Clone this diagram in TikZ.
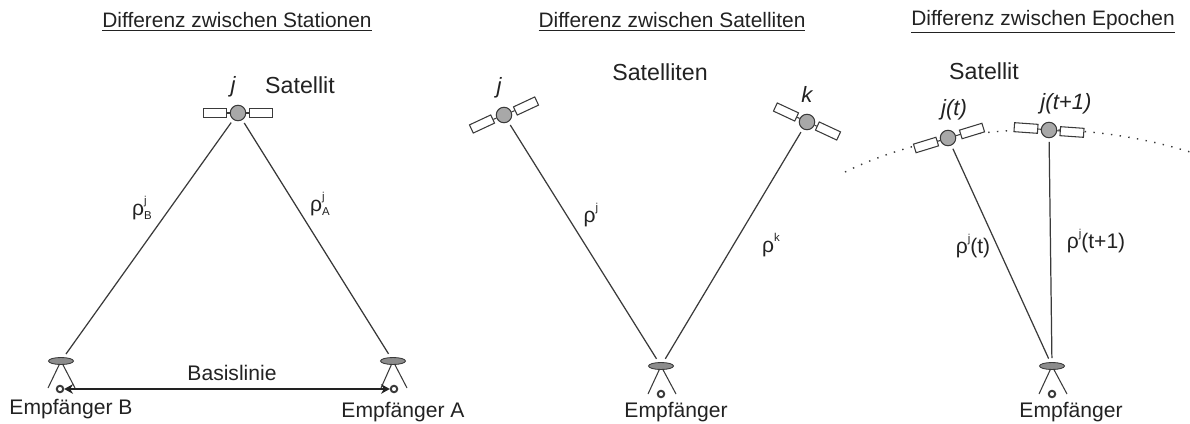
\documentclass[tikz,border=0pt]{standalone}
\usepackage{xcolor}
\usepackage{fontspec}
\setmainfont{Liberation Sans}
\usepackage{tikz}
\usetikzlibrary{shapes.geometric,arrows.meta}
\definecolor{InkGray}{HTML}{222222}
\definecolor{LineGray}{HTML}{3A3A3A}
\definecolor{BodyGray}{HTML}{A8A8A8}
\definecolor{DishGray}{HTML}{8C8C8C}
\newcommand{\rholabel}[2]{ρ\rlap{\raisebox{1.0ex}{\fontsize{6.5}{7}\selectfont #1}}\raisebox{-0.35ex}{\fontsize{6.5}{7}\selectfont #2}}
\newcommand{\rhosup}[1]{ρ\raisebox{1.0ex}{\fontsize{6.5}{7}\selectfont #1}}
\tikzset{
  titlelabel/.style={
    font=\fontsize{11.9}{13}\selectfont,text=InkGray,inner sep=0pt
  },
  textlabel/.style={
    font=\fontsize{12}{13}\selectfont,text=InkGray,inner sep=0pt
  },
  satlabel/.style={
    font=\fontsize{13.2}{15}\selectfont,text=InkGray,inner sep=0pt
  },
  idlabel/.style={
    font=\fontsize{12.6}{14}\selectfont\itshape,text=InkGray,inner sep=0pt
  },
  satbody/.style={
    circle,draw=LineGray,fill=BodyGray,line width=0.6pt,
    minimum size=0.31cm,inner sep=0pt
  },
  satpanel/.style={
    rectangle,draw=LineGray,fill=white,line width=0.6pt,
    minimum width=0.47cm,minimum height=0.18cm,inner sep=0pt
  },
  dish/.style={
    ellipse,draw=LineGray,fill=DishGray,line width=0.5pt,
    minimum width=0.5cm,minimum height=0.14cm,inner sep=0pt
  },
  phasepoint/.style={
    circle,draw=LineGray,fill=white,line width=1.1pt,
    minimum size=0.13cm,inner sep=0pt
  },
  strut/.style={line width=0.6pt,draw=LineGray},
  legline/.style={line width=0.6pt,draw=LineGray},
  rangeline/.style={line width=0.7pt,draw=LineGray,shorten <=2pt,shorten >=2.2pt},
}
\begin{document}
\begin{tikzpicture}[x=0.02cm,y=-0.02cm]
  \useasboundingbox (0,0) rectangle (1190,423);
  \node[titlelabel] (title1) at (237,22) {\underline{Differenz zwischen Stationen}};
  \node[titlelabel] (title2) at (672,22) {\underline{Differenz zwischen Satelliten}};
  \node[titlelabel] (title3) at (1043,22) {\underline{Differenz zwischen Epochen}};
  \coordinate (orbitL) at (845,172);
  \coordinate (orbitR) at (1190,152);
  \draw[line width=0.8pt,draw=LineGray,dash pattern=on 0.8pt off 4.2pt] (orbitL) .. controls (930,130) and (1060,112) .. (orbitR);
  \node[satpanel] (panA1) at (215,113) {};
  \node[satpanel] (panA2) at (261,113) {};
  \node[satbody] (satA) at (238,113) {};
  \node[satpanel,rotate=25] (panB1) at (482,124) {};
  \node[satpanel,rotate=25] (panB2) at (526,106) {};
  \node[satbody] (satB) at (504,115) {};
  \node[satpanel,rotate=-25] (panC1) at (786,112) {};
  \node[satpanel,rotate=-25] (panC2) at (828,131) {};
  \node[satbody] (satC) at (807,122) {};
  \node[satpanel,rotate=17] (panD1) at (926,145) {};
  \node[satpanel,rotate=17] (panD2) at (972,131) {};
  \node[satbody] (satD) at (948,138) {};
  \node[satpanel,rotate=-4] (panE1) at (1026,128) {};
  \node[satpanel,rotate=-4] (panE2) at (1072,132) {};
  \node[satbody] (satE) at (1049,130) {};
  \draw[strut] (satA) -- (panA1);
  \draw[strut] (satA) -- (panA2);
  \draw[strut] (satB) -- (panB1);
  \draw[strut] (satB) -- (panB2);
  \draw[strut] (satC) -- (panC1);
  \draw[strut] (satC) -- (panC2);
  \draw[strut] (satD) -- (panD1);
  \draw[strut] (satD) -- (panD2);
  \draw[strut] (satE) -- (panE1);
  \draw[strut] (satE) -- (panE2);
  \node[dish] (dishB) at (61,361) {};
  \node[dish] (dishA) at (393,361) {};
  \node[dish] (dishM) at (661,366) {};
  \node[dish] (dishE) at (1052,366) {};
  \node[phasepoint] (phB) at (60,389) {};
  \node[phasepoint] (phA) at (394,389) {};
  \node[phasepoint] (phM) at (661,394) {};
  \node[phasepoint] (phE) at (1052,394) {};
  \coordinate (footB1) at (48,388);
  \coordinate (footB2) at (75,388);
  \coordinate (footA1) at (381,388);
  \coordinate (footA2) at (407,388);
  \coordinate (footM1) at (648,394);
  \coordinate (footM2) at (676,394);
  \coordinate (footE1) at (1039,394);
  \coordinate (footE2) at (1067,394);
  \draw[legline] (dishB) -- (footB1);
  \draw[legline] (dishB) -- (footB2);
  \draw[legline] (dishA) -- (footA1);
  \draw[legline] (dishA) -- (footA2);
  \draw[legline] (dishM) -- (footM1);
  \draw[legline] (dishM) -- (footM2);
  \draw[legline] (dishE) -- (footE1);
  \draw[legline] (dishE) -- (footE2);
  \draw[rangeline] (satA) -- (dishB);
  \draw[rangeline] (satA) -- (dishA);
  \draw[rangeline] (satB) -- (dishM);
  \draw[rangeline] (satC) -- (dishM);
  \draw[rangeline] (satD) -- (dishE);
  \draw[rangeline] (satE) -- (dishE);
  \draw[line width=0.9pt,draw=InkGray,{Stealth[length=5pt,width=5.5pt]}-{Stealth[length=5pt,width=5.5pt]}] (phB) -- (phA);
  \node[satlabel] (satlabelA) at (300,85) {Satellit};
  \node[satlabel] (satlabelB) at (660,72) {Satelliten};
  \node[satlabel] (satlabelC) at (984,71) {Satellit};
  \node[idlabel] (jA) at (233,87) {j};
  \node[idlabel] (jB) at (499,88) {j};
  \node[idlabel] (kC) at (807,94) {k};
  \node[idlabel] (jD) at (954,110) {j(t)};
  \node[idlabel] (jE) at (1066,104) {j(t+1)};
  \node[textlabel] (rhoB) at (142,208) {\rholabel{j}{B}};
  \node[textlabel] (rhoA) at (320,204) {\rholabel{j}{A}};
  \node[textlabel] (rhoM) at (591,215) {\rhosup{j}};
  \node[textlabel] (rhoK) at (771,245) {\rhosup{k}};
  \node[textlabel] (rhoD) at (973,246) {\rhosup{j}(t)};
  \node[textlabel] (rhoE) at (1096,241) {\rhosup{j}(t+1)};
  \node[textlabel] (baseline) at (232,373) {Basislinie};
  \node[textlabel] (rxB) at (71,409) {Empfänger B};
  \node[textlabel] (rxA) at (403,412) {Empfänger A};
  \node[textlabel] (rxM) at (676,412) {Empfänger};
  \node[textlabel] (rxE) at (1071,412) {Empfänger};
\end{tikzpicture}
\end{document}
